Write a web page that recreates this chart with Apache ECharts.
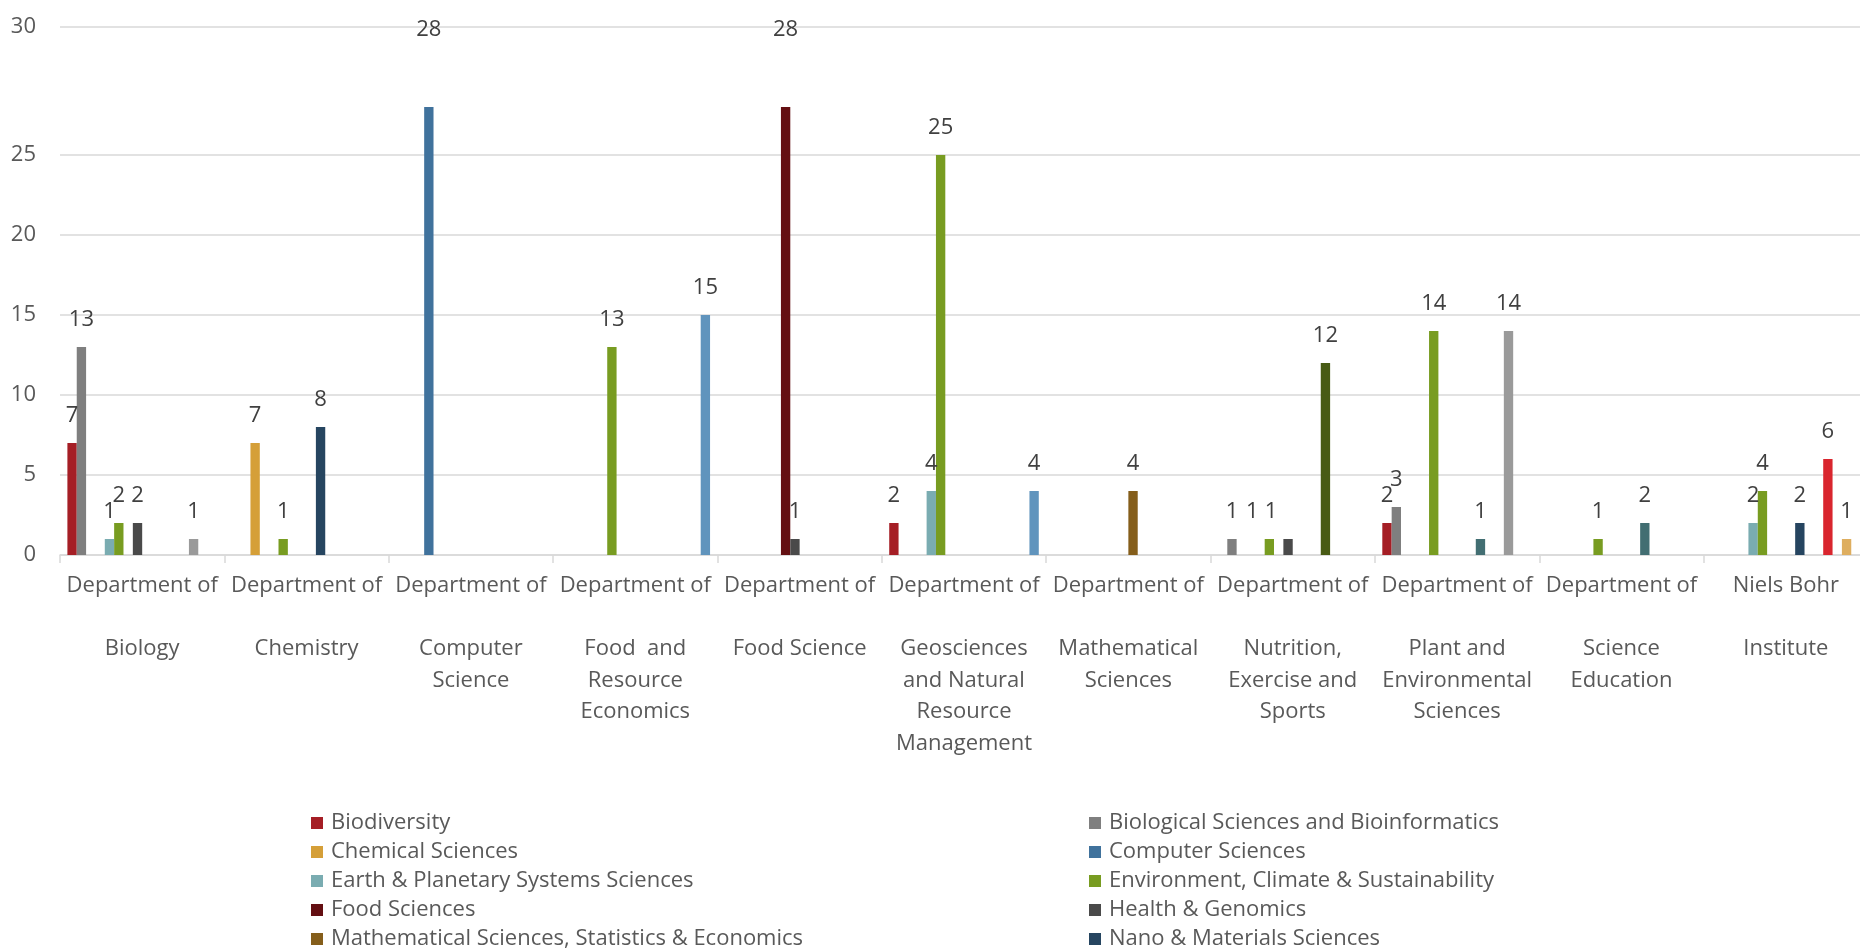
<!DOCTYPE html>
<html>
<head>
<meta charset="utf-8">
<title>Departments by research area</title>
<script src="https://cdn.jsdelivr.net/npm/echarts@6/dist/echarts.min.js"></script>
<style>
  html, body { margin: 0; padding: 0; background: #fff; }
  #chart { width: 1860px; height: 949px; }
</style>
</head>
<body>
<div id="chart"></div>
<script>
// categories (x axis), label lines as they are broken in the picture
const categories = [
  'Department of\n\nBiology',
  'Department of\n\nChemistry',
  'Department of\n\nComputer\nScience',
  'Department of\n\nFood  and\nResource\nEconomics',
  'Department of\n\nFood Science',
  'Department of\n\nGeosciences\nand Natural\nResource\nManagement',
  'Department of\n\nMathematical\nSciences',
  'Department of\n\nNutrition,\nExercise and\nSports',
  'Department of\n\nPlant and\nEnvironmental\nSciences',
  'Department of\n\nScience\nEducation',
  'Niels Bohr\n\nInstitute'
]

// y axis: the picture puts its top line ("30") above the real 30 mark
const yTickValues = [0, 5, 10, 15, 20, 25, 33]
const yTickLabels = ['0', '5', '10', '15', '20', '25', '30']

// one array per research area, one value per department (null = no bar)
const biodiversity      = [7, null, null, null, null, 2, null, null, 2, null, null]
const bioSciences       = [13, null, null, null, null, null, null, 1, 3, null, null]
const chemicalSciences  = [null, 7, null, null, null, null, null, null, null, null, null]
const computerSciences  = [null, null, 28, null, null, null, null, null, null, null, null]
const earthPlanetary    = [1, null, null, null, null, 4, null, null, null, null, 2]
const environment       = [2, 1, null, 13, null, 25, null, 1, 14, 1, 4]
const foodSciences      = [null, null, null, null, 28, null, null, null, null, null, null]
const healthGenomics    = [2, null, null, null, 1, null, null, 1, null, null, null]
const mathSciences      = [null, null, null, null, null, null, 4, null, null, null, null]
const nanoMaterials     = [null, 8, null, null, null, null, null, null, null, null, 2]
const naturalScienceEdu = [null, null, null, null, null, null, null, null, 1, 2, null]
const nutritionSports   = [null, null, null, null, null, null, null, 12, null, null, null]
const physics           = [null, null, null, null, null, null, null, null, null, null, 6]
const plantAgriculture  = [1, null, null, null, null, null, null, null, 14, null, null]
const quantumSciences   = [null, null, null, null, null, null, null, null, null, null, 1]
const societyEconomics  = [null, null, null, 15, null, 4, null, null, null, null, null]

const seriesNames = [
  'Biodiversity',
  'Biological Sciences and Bioinformatics',
  'Chemical Sciences',
  'Computer Sciences',
  'Earth & Planetary Systems Sciences',
  'Environment, Climate & Sustainability',
  'Food Sciences',
  'Health & Genomics',
  'Mathematical Sciences, Statistics & Economics',
  'Nano & Materials Sciences',
  'Natural Science Education',
  'Nutrition, Exercise & Sports',
  'Physics',
  'Plant & Agricultural Sciences',
  'Quantum Sciences',
  'Society, Economics & Policy'
]
const seriesValues = [
  biodiversity, bioSciences, chemicalSciences, computerSciences,
  earthPlanetary, environment, foodSciences, healthGenomics,
  mathSciences, nanoMaterials, naturalScienceEdu, nutritionSports,
  physics, plantAgriculture, quantumSciences, societyEconomics
]

const palette = [
  '#A51E25', '#7F7F7F', '#D59F38', '#40729C',
  '#7AACB1', '#789C21', '#640F12', '#4A4A4A',
  '#855E1B', '#264560', '#426E72', '#485B14',
  '#D9262E', '#9A9A9A', '#DEAE5F', '#6094BD'
]

const FONT = '"Open Sans", "Noto Sans", sans-serif'
const TEXT = '#595959'
const FS = 22

// label nudges seen in the picture: "seriesIndex-categoryIndex" -> [dx, dy]
const labelNudge = {
  '3-2': [0, -50],   // 28s are pinned to the top of the plot
  '6-4': [0, -50],
  '5-7': [-17, 0],   // Nutrition group, labels crowd to the left
  '7-7': [-17, 0]
}

const series = seriesValues.map((arr, i) => ({
  name: seriesNames[i],
  type: 'bar',
  data: arr.map((v, j) => {
    const nudge = labelNudge[i + '-' + j]
    return v != null && nudge ? { value: v, label: { offset: nudge } } : v
  }),
  barGap: 0,
  barCategoryGap: '9%',
  itemStyle: { color: palette[i] },
  label: {
    show: true,
    position: 'top',
    distance: 15,
    color: '#404040',
    fontSize: FS,
    lineHeight: 24,
    fontFamily: FONT
  }
}))

const legendBase = {
  orient: 'vertical',
  top: 812,
  height: 200,
  padding: 0,
  itemGap: 7,
  itemWidth: 12,
  itemHeight: 12,
  icon: 'rect',
  selectedMode: false,
  textStyle: { color: TEXT, fontSize: FS, lineHeight: 20, fontFamily: FONT, padding: [0, 0, 0, 3] }
}

const chart = echarts.init(document.getElementById('chart'))
chart.setOption({
  animation: false,
  backgroundColor: '#fff',
  grid: { left: 60, right: -8, top: 27, bottom: 394, outerBoundsMode: 'none', containLabel: false },
  legend: [
    { ...legendBase, left: 311, data: seriesNames.slice(0, 10).filter((_, i) => i % 2 === 0) },
    { ...legendBase, left: 1089, data: seriesNames.slice(0, 10).filter((_, i) => i % 2 === 1) }
  ],
  xAxis: {
    type: 'category',
    data: categories,
    axisLine: { lineStyle: { color: '#D9D9D9', width: 1.5 } },
    axisTick: { show: true, length: 8, lineStyle: { color: '#D9D9D9', width: 1.5 } },
    axisLabel: {
      interval: 0,
      margin: 15,
      color: TEXT,
      fontSize: FS,
      lineHeight: 31.5,
      fontFamily: FONT,
      align: 'center'
    }
  },
  yAxis: {
    type: 'value',
    min: 0,
    max: 33,
    axisLine: { show: false },
    axisTick: { show: false, customValues: yTickValues },
    splitLine: { lineStyle: { color: '#D9D9D9', width: 1.5 } },
    axisLabel: {
      customValues: yTickValues,
      margin: 24,
      color: TEXT,
      fontSize: FS,
      fontFamily: FONT,
      formatter: (v) => yTickLabels[yTickValues.indexOf(v)] ?? ''
    }
  },
  series
})
</script>
</body>
</html>
